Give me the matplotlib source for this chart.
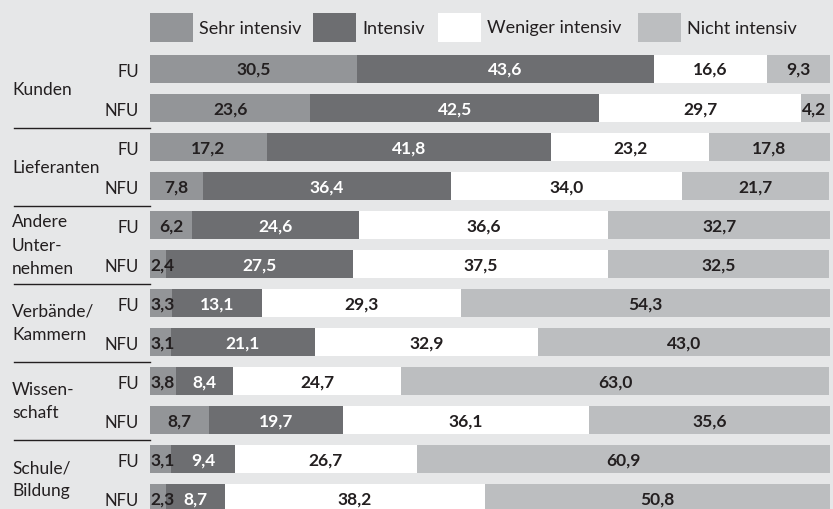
import matplotlib
matplotlib.use("Agg")
import matplotlib.pyplot as plt
import matplotlib.patches as patches
from matplotlib.transforms import blended_transform_factory
import numpy as np

plt.rcParams['font.family'] = ['Lato', 'DejaVu Sans']

# data
groups = ["Kunden", "Lieferanten", "Andere\nUnter-\nnehmen", "Verbände/\nKammern",
          "Wissen-\nschaft", "Schule/\nBildung"]
rows = ["FU", "NFU"]
series = ["Sehr intensiv", "Intensiv", "Weniger intensiv", "Nicht intensiv"]
sehr = [30.5, 23.6, 17.2, 7.8, 6.2, 2.4, 3.3, 3.1, 3.8, 8.7, 3.1, 2.3]
intensiv = [43.6, 42.5, 41.8, 36.4, 24.6, 27.5, 13.1, 21.1, 8.4, 19.7, 9.4, 8.7]
weniger = [16.6, 29.7, 23.2, 34.0, 36.6, 37.5, 29.3, 32.9, 24.7, 36.1, 26.7, 38.2]
nicht = [9.3, 4.2, 17.8, 21.7, 32.7, 32.5, 54.3, 43.0, 63.0, 35.6, 60.9, 50.8]

colors = ["#939598", "#6d6e71", "#ffffff", "#bcbec0"]
txtcol = ["#231f20", "#ffffff", "#231f20", "#231f20"]
bg = "#e6e7e8"

W, H = 833, 510
fig = plt.figure(figsize=(W / 100, H / 100), dpi=100, facecolor=bg)
ax = fig.add_axes([150 / W, 0, 680 / W, 460 / H])
ax.set_facecolor(bg)

n = len(sehr)
y = np.arange(n)
vals = [sehr, intensiv, weniger, nicht]
left = np.zeros(n)
for k, v in enumerate(vals):
    v = np.array(v)
    ax.barh(y, v, left=left, height=0.72, color=colors[k], edgecolor='none')
    for i in range(n):
        s = ("%.1f" % v[i]).replace(".", ",")
        if v[i] < 5:
            ax.text(left[i] + 0.05, y[i], s, ha='left', va='center', fontsize=12.5,
                    fontweight='bold', color=txtcol[k])
        else:
            ax.text(left[i] + v[i] / 2, y[i], s, ha='center', va='center', fontsize=12.5,
                    fontweight='bold', color=txtcol[k])
    left += v

ax.set_xlim(0, 100)
ax.set_ylim(11.28, -0.513)
ax.set_yticks(y)
ax.set_yticklabels(rows * len(groups), fontsize=12, color="#231f20")
ax.tick_params(axis='y', length=0, pad=8)
ax.set_xticks([])
for sp in ax.spines.values():
    sp.set_visible(False)

tr = blended_transform_factory(fig.transFigure, ax.transData)
for g, name in enumerate(groups):
    ax.text(12 / W, 2 * g + 0.5, name, transform=tr, ha='left', va='center',
            fontsize=12.5, color="#231f20", linespacing=1.55, clip_on=False)
    if g > 0:
        ax.plot([14 / W, 150 / W], [2 * g - 0.5, 2 * g - 0.5], transform=tr,
                color="#231f20", lw=1, clip_on=False)

# legend
leg_x = [150, 313, 438, 638]
for k, name in enumerate(series):
    fig.patches.append(patches.Rectangle((leg_x[k] / W, 1 - 43 / H), 43 / W, 29 / H,
                                         transform=fig.transFigure, facecolor=colors[k],
                                         edgecolor='none'))
    fig.text((leg_x[k] + 49) / W, 1 - 28.5 / H, name, ha='left', va='center',
             fontsize=13, color="#231f20")

fig.savefig("out.png", dpi=100, facecolor=bg)
